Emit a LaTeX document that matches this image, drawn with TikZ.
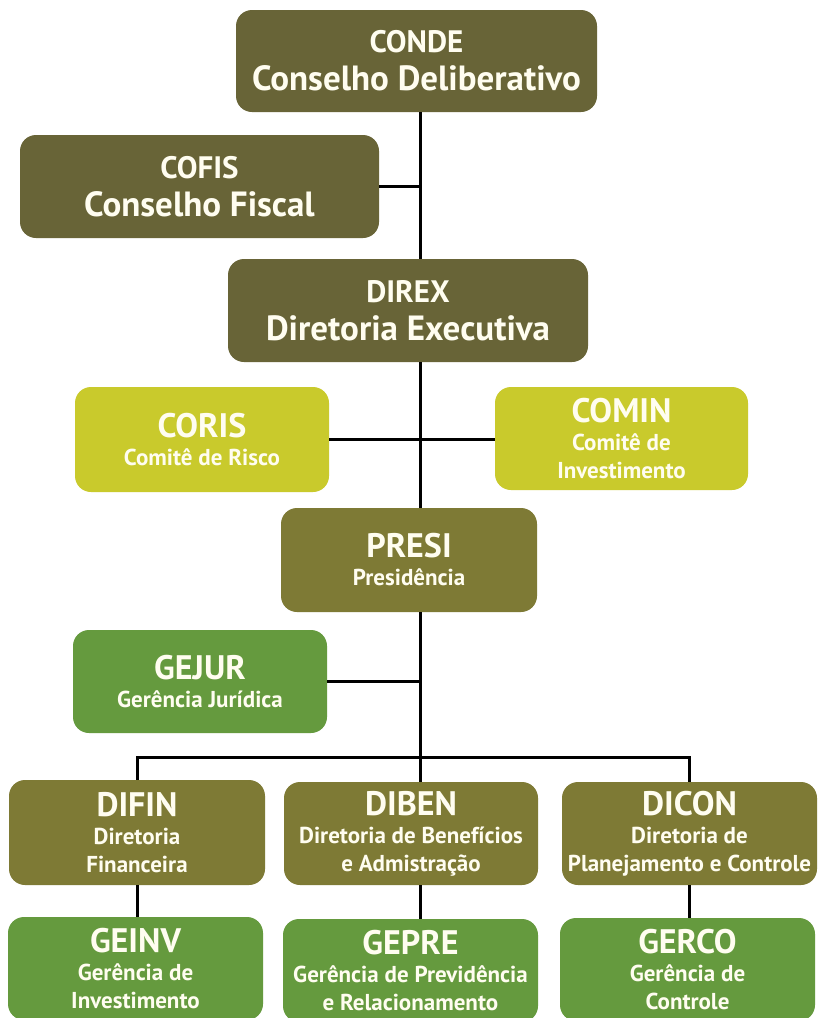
\documentclass[tikz,border=0pt]{standalone}
\usepackage{fontspec}
\setmainfont{PT Sans}
\definecolor{darkolive}{HTML}{686437}
\definecolor{olive}{HTML}{7E7A35}
\definecolor{lime}{HTML}{C9CA2C}
\definecolor{leaf}{HTML}{659A3E}
\definecolor{txt}{HTML}{FFFDF0}
\newcommand{\bigf}{\bfseries\fontsize{35}{38}\selectfont}
\newcommand{\bigt}{\bfseries\fontsize{31}{38}\selectfont}
\newcommand{\ttlf}{\bfseries\fontsize{34}{30}\selectfont}
\newcommand{\subf}{\bfseries\fontsize{23}{28}\selectfont}
\tikzset{
  box/.style={rectangle, rounded corners=16pt, inner sep=0pt, align=center, text=txt, font=\subf},
  bigbox/.style={box, fill=darkolive, font=\bigf},
  conn/.style={draw=black, line width=3pt},
}
\begin{document}
\begin{tikzpicture}[x=1pt, y=-1pt]
\clip (0,0) rectangle (819,1018);
\fill[white] (0,0) rectangle (819,1018);
% boxes
\node[bigbox, minimum width=361pt, minimum height=102pt] (conde) at (416.5,61) {{\bigt CONDE}\\Conselho Deliberativo};
\node[bigbox, minimum width=359pt, minimum height=103pt] (cofis) at (199.5,186.5) {{\bigt COFIS}\\Conselho Fiscal};
\node[bigbox, minimum width=360pt, minimum height=103pt] (direx) at (408,310.5) {{\bigt DIREX}\\Diretoria Executiva};
\node[box, fill=lime, minimum width=254pt, minimum height=105pt] (coris) at (202,439.5) {{\ttlf CORIS}\\Comitê de Risco};
\node[box, fill=lime, minimum width=253pt, minimum height=103pt] (comin) at (621.5,438.5) {{\ttlf COMIN}\\Comitê de\\Investimento};
\node[box, fill=olive, minimum width=256pt, minimum height=104pt] (presi) at (409,560) {{\ttlf PRESI}\\Presidência};
\node[box, fill=leaf, minimum width=254pt, minimum height=103pt] (gejur) at (200,681.5) {{\ttlf GEJUR}\\Gerência Jurídica};
\node[box, fill=olive, minimum width=256pt, minimum height=105pt] (difin) at (137,832.5) {{\ttlf DIFIN}\\Diretoria\\Financeira};
\node[box, fill=olive, minimum width=254pt, minimum height=103pt] (diben) at (411,833.5) {{\ttlf DIBEN}\\Diretoria de Benefícios\\e Admistração};
\node[box, fill=olive, minimum width=255pt, minimum height=103pt] (dicon) at (689.5,833.5) {{\ttlf DICON}\\Diretoria de\\Planejamento e Controle};
\node[box, fill=leaf, minimum width=255pt, minimum height=103pt] (geinv) at (135.5,968.5) {{\ttlf GEINV}\\Gerência de\\Investimento};
\node[box, fill=leaf, minimum width=255pt, minimum height=103pt] (gepre) at (410.5,970.5) {{\ttlf GEPRE}\\Gerência de Previdência\\e Relacionamento};
\node[box, fill=leaf, minimum width=255pt, minimum height=103pt] (gerco) at (687.5,969.5) {{\ttlf GERCO}\\Gerência de\\Controle};
% connectors
\coordinate (bus) at (420,757);
\draw[conn] (conde.south -| bus) -- (direx.north -| bus);
\draw[conn] (direx.south -| bus) -- (presi.north -| bus);
\draw[conn] (presi.south -| bus) -- (bus);
\draw[conn] (cofis.east) -- (cofis.east -| bus);
\draw[conn] (coris.east) -- (coris.east -| comin.west);
\draw[conn] (gejur.east) -- (gejur.east -| bus);
\draw[conn] (difin.north) -- (difin.north |- bus) -- (dicon.north |- bus) -- (dicon.north);
\draw[conn] (bus) -- (diben.north -| bus);
\draw[conn] (difin.south) -- (difin.south |- geinv.north);
\draw[conn] (diben.south -| bus) -- (gepre.north -| bus);
\draw[conn] (dicon.south) -- (dicon.south |- gerco.north);
\end{tikzpicture}
\end{document}
